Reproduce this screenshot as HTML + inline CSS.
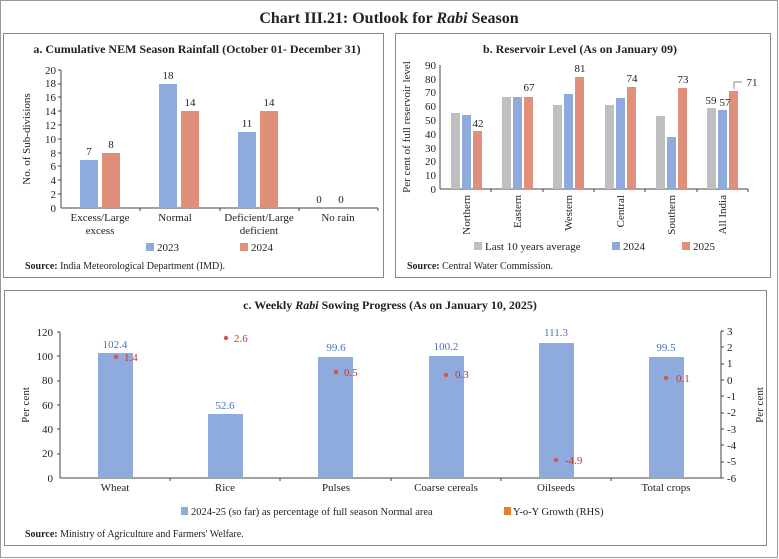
<!DOCTYPE html>
<html><head><meta charset="utf-8"><style>
body{margin:0;background:#fff}
svg{display:block;font-family:"Liberation Serif",serif}
</style></head><body>
<svg width="779" height="559" viewBox="0 0 779 559" xmlns="http://www.w3.org/2000/svg">
<rect x="0.5" y="0.5" width="777" height="557" fill="#fff" stroke="#999"/>
<text x="389" y="23" text-anchor="middle" font-size="16" font-weight="bold" fill="#222">Chart III.21: Outlook for <tspan font-style="italic">Rabi</tspan> Season</text>

<!-- Panel a -->
<rect x="3.5" y="33.5" width="380" height="244" fill="#fff" stroke="#888"/>
<text x="197" y="53" text-anchor="middle" font-size="12" font-weight="bold" fill="#222">a. Cumulative NEM Season Rainfall (October 01- December 31)</text>
<g font-size="11" fill="#222" text-anchor="end">
<text x="56" y="212">0</text><text x="56" y="198">2</text><text x="56" y="184">4</text><text x="56" y="170">6</text><text x="56" y="157">8</text><text x="56" y="143">10</text><text x="56" y="129">12</text><text x="56" y="115">14</text><text x="56" y="101">16</text><text x="56" y="87">18</text><text x="56" y="74">20</text>
</g>
<g stroke="#444"><line x1="61" y1="70" x2="61" y2="208"/><line x1="61" y1="208" x2="378" y2="208"/>
<line x1="58" y1="70" x2="61" y2="70"/><line x1="58" y1="84" x2="61" y2="84"/><line x1="58" y1="97" x2="61" y2="97"/><line x1="58" y1="111" x2="61" y2="111"/><line x1="58" y1="125" x2="61" y2="125"/><line x1="58" y1="139" x2="61" y2="139"/><line x1="58" y1="153" x2="61" y2="153"/><line x1="58" y1="166" x2="61" y2="166"/><line x1="58" y1="180" x2="61" y2="180"/><line x1="58" y1="194" x2="61" y2="194"/>
<line x1="140" y1="208" x2="140" y2="211"/><line x1="220" y1="208" x2="220" y2="211"/><line x1="299" y1="208" x2="299" y2="211"/><line x1="378" y1="208" x2="378" y2="211"/></g>
<text transform="translate(30,139) rotate(-90)" text-anchor="middle" font-size="11" fill="#222">No. of Sub-divisions</text>
<g fill="#8FAADC"><rect x="80" y="160" width="18" height="48"/><rect x="159" y="84" width="18" height="124"/><rect x="238" y="132" width="18" height="76"/></g>
<g fill="#E0907A"><rect x="102" y="153" width="18" height="55"/><rect x="181" y="111" width="18" height="97"/><rect x="260" y="111" width="18" height="97"/></g>
<g font-size="11" fill="#222" text-anchor="middle">
<text x="89" y="155">7</text><text x="111" y="148">8</text><text x="168" y="79">18</text><text x="190" y="106">14</text><text x="247" y="127">11</text><text x="269" y="106">14</text><text x="319" y="203">0</text><text x="341" y="203">0</text>
<text x="100" y="221">Excess/Large</text><text x="100" y="234">excess</text><text x="175" y="221">Normal</text><text x="259" y="221">Deficient/Large</text><text x="259" y="234">deficient</text><text x="338" y="221">No rain</text>
</g>
<rect x="146" y="243" width="8" height="8" fill="#8FAADC"/><text x="157" y="251" font-size="11" fill="#222">2023</text>
<rect x="240" y="243" width="8" height="8" fill="#E0907A"/><text x="251" y="251" font-size="11" fill="#222">2024</text>
<text x="25" y="269" font-size="10" fill="#222"><tspan font-weight="bold">Source:</tspan> India Meteorological Department (IMD).</text>

<!-- Panel b -->
<rect x="395.5" y="33.5" width="375" height="244" fill="#fff" stroke="#888"/>
<text x="580" y="53" text-anchor="middle" font-size="12" font-weight="bold" fill="#222">b. Reservoir Level (As on January 09)</text>
<g font-size="11" fill="#222" text-anchor="end">
<text x="436" y="193">0</text><text x="436" y="179">10</text><text x="436" y="165">20</text><text x="436" y="152">30</text><text x="436" y="138">40</text><text x="436" y="124">50</text><text x="436" y="110">60</text><text x="436" y="96">70</text><text x="436" y="83">80</text><text x="436" y="69">90</text>
</g>
<g stroke="#444"><line x1="440" y1="65" x2="440" y2="189"/><line x1="440" y1="189" x2="748" y2="189"/>
<line x1="491" y1="189" x2="491" y2="192"/><line x1="543" y1="189" x2="543" y2="192"/><line x1="594" y1="189" x2="594" y2="192"/><line x1="645" y1="189" x2="645" y2="192"/><line x1="697" y1="189" x2="697" y2="192"/><line x1="748" y1="189" x2="748" y2="192"/></g>
<text transform="translate(410,127) rotate(-90)" text-anchor="middle" font-size="11" fill="#222">Per cent of full reservoir level</text>
<g fill="#BFBFBF">
<rect x="451" y="113" width="9" height="76"/><rect x="502" y="97" width="9" height="92"/><rect x="553" y="105" width="9" height="84"/><rect x="605" y="105" width="9" height="84"/><rect x="656" y="116" width="9" height="73"/><rect x="707" y="108" width="9" height="81"/></g>
<g fill="#8FAADC">
<rect x="462" y="115" width="9" height="74"/><rect x="513" y="97" width="9" height="92"/><rect x="564" y="94" width="9" height="95"/><rect x="616" y="98" width="9" height="91"/><rect x="667" y="137" width="9" height="52"/><rect x="718" y="110" width="9" height="79"/></g>
<g fill="#E0907A">
<rect x="473" y="131" width="9" height="58"/><rect x="524" y="97" width="9" height="92"/><rect x="575" y="77" width="9" height="112"/><rect x="627" y="87" width="9" height="102"/><rect x="678" y="88" width="9" height="101"/><rect x="729" y="91" width="9" height="98"/></g>
<g font-size="11" fill="#222" text-anchor="middle">
<text x="478" y="127">42</text><text x="529" y="91">67</text><text x="580" y="72">81</text><text x="632" y="82">74</text><text x="683" y="83">73</text><text x="711" y="104">59</text><text x="725" y="106">57</text><text x="752" y="86">71</text>
</g>
<polyline points="734,89 734,82 742,82" fill="none" stroke="#888"/>
<g font-size="11" fill="#222" text-anchor="end">
<text transform="translate(470,195) rotate(-90)">Northern</text><text transform="translate(521,195) rotate(-90)">Eastern</text><text transform="translate(572,195) rotate(-90)">Western</text><text transform="translate(624,195) rotate(-90)">Central</text><text transform="translate(675,195) rotate(-90)">Southern</text><text transform="translate(726,195) rotate(-90)">All India</text>
</g>
<rect x="474" y="242" width="8" height="8" fill="#BFBFBF"/><text x="485" y="250" font-size="11" fill="#222">Last 10 years average</text>
<rect x="612" y="242" width="8" height="8" fill="#8FAADC"/><text x="623" y="250" font-size="11" fill="#222">2024</text>
<rect x="682" y="242" width="8" height="8" fill="#E0907A"/><text x="693" y="250" font-size="11" fill="#222">2025</text>
<text x="407" y="269" font-size="10" fill="#222"><tspan font-weight="bold">Source:</tspan> Central Water Commission.</text>

<!-- Panel c -->
<rect x="4.5" y="290.5" width="762" height="255" fill="#fff" stroke="#888"/>
<text x="390" y="309" text-anchor="middle" font-size="12" font-weight="bold" fill="#222">c. Weekly <tspan font-style="italic">Rabi</tspan> Sowing Progress (As on January 10, 2025)</text>
<g font-size="11" fill="#222" text-anchor="end">
<text x="53" y="482">0</text><text x="53" y="457">20</text><text x="53" y="433">40</text><text x="53" y="409">60</text><text x="53" y="384">80</text><text x="53" y="360">100</text><text x="53" y="336">120</text>
</g>
<g font-size="11" fill="#222">
<text x="727" y="335">3</text><text x="727" y="351">2</text><text x="727" y="367">1</text><text x="727" y="384">0</text><text x="727" y="400">-1</text><text x="727" y="416">-2</text><text x="727" y="433">-3</text><text x="727" y="449">-4</text><text x="727" y="465">-5</text><text x="727" y="482">-6</text>
</g>
<g stroke="#444"><line x1="60" y1="332" x2="60" y2="478"/><line x1="60" y1="478" x2="721" y2="478"/><line x1="721" y1="331" x2="721" y2="478"/>
<line x1="57" y1="332" x2="60" y2="332"/><line x1="57" y1="356" x2="60" y2="356"/><line x1="57" y1="381" x2="60" y2="381"/><line x1="57" y1="405" x2="60" y2="405"/><line x1="57" y1="429" x2="60" y2="429"/><line x1="57" y1="454" x2="60" y2="454"/>
<line x1="721" y1="331" x2="724" y2="331"/><line x1="721" y1="347" x2="724" y2="347"/><line x1="721" y1="364" x2="724" y2="364"/><line x1="721" y1="380" x2="724" y2="380"/><line x1="721" y1="396" x2="724" y2="396"/><line x1="721" y1="413" x2="724" y2="413"/><line x1="721" y1="429" x2="724" y2="429"/><line x1="721" y1="445" x2="724" y2="445"/><line x1="721" y1="462" x2="724" y2="462"/><line x1="721" y1="478" x2="724" y2="478"/>
<line x1="170" y1="478" x2="170" y2="481"/><line x1="280" y1="478" x2="280" y2="481"/><line x1="391" y1="478" x2="391" y2="481"/><line x1="501" y1="478" x2="501" y2="481"/><line x1="611" y1="478" x2="611" y2="481"/></g>
<text transform="translate(29,405) rotate(-90)" text-anchor="middle" font-size="11" fill="#222">Per cent</text>
<text transform="translate(763,405) rotate(-90)" text-anchor="middle" font-size="11" fill="#222">Per cent</text>
<g fill="#8FAADC">
<rect x="98" y="353" width="35" height="125"/><rect x="208" y="414" width="35" height="64"/><rect x="318" y="357" width="35" height="121"/><rect x="429" y="356" width="35" height="122"/><rect x="539" y="343" width="35" height="135"/><rect x="649" y="357" width="35" height="121"/></g>
<g font-size="11" fill="#4472C4" text-anchor="middle">
<text x="115" y="348">102.4</text><text x="225" y="409">52.6</text><text x="336" y="351">99.6</text><text x="446" y="350">100.2</text><text x="556" y="336">111.3</text><text x="666" y="351">99.5</text>
</g>
<g fill="#D9534F"><circle cx="116" cy="357" r="2.2"/><circle cx="226" cy="338" r="2.2"/><circle cx="336" cy="372" r="2.2"/><circle cx="446" cy="375" r="2.2"/><circle cx="556" cy="460" r="2.2"/><circle cx="666" cy="378" r="2.2"/></g>
<g font-size="11" fill="#C0392B">
<text x="124" y="361">1.4</text><text x="234" y="342">2.6</text><text x="344" y="376">0.5</text><text x="455" y="378">0.3</text><text x="565" y="464">-4.9</text><text x="676" y="382">0.1</text>
</g>
<g font-size="11" fill="#222" text-anchor="middle">
<text x="115" y="491">Wheat</text><text x="225" y="491">Rice</text><text x="336" y="491">Pulses</text><text x="446" y="491">Coarse cereals</text><text x="556" y="491">Oilseeds</text><text x="666" y="491">Total crops</text>
</g>
<rect x="181" y="507" width="7" height="8" fill="#8FAADC"/><text x="191" y="515" font-size="10.5" fill="#222">2024-25 (so far) as percentage of full season Normal area</text>
<rect x="504" y="507" width="7" height="8" fill="#ED7D31"/><text x="513" y="515" font-size="10.5" fill="#222">Y-o-Y Growth (RHS)</text>
<text x="25" y="537" font-size="10" fill="#222"><tspan font-weight="bold">Source:</tspan> Ministry of Agriculture and Farmers' Welfare.</text>
</svg>
</body></html>
